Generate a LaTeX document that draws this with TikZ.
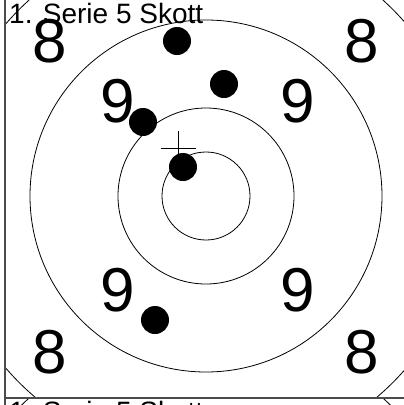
\documentclass[tikz,border=0pt]{standalone}
\usepackage{fontspec}
\setmainfont{Liberation Sans}
\begin{document}
\begin{tikzpicture}[x=1pt,y=-1pt,
  ring/.style={draw, line width=0.8pt},
  shot/.style={circle, fill, inner sep=0pt, minimum size=28pt},
  bignum/.style={font=\fontsize{62}{62}\selectfont, inner sep=0pt},
  titletext/.style={font=\fontsize{28}{28}\selectfont, inner sep=0pt, anchor=base west},
  border/.style={line width=1.5pt, draw=black!70},
  aim/.style={draw, line width=1pt}]
\useasboundingbox (0,0) rectangle (404,405);
% first sheet
\begin{scope}
\clip (5,0) rectangle (404,398);
\coordinate (c) at (206,196);
\node[titletext] (t1) at (9,23) {1. Serie 5 Skott};
\node[bignum] (e1) at (50,41) {8};
\node[bignum] (e2) at (362,41) {8};
\node[bignum] (e3) at (50,352) {8};
\node[bignum] (e4) at (362,352) {8};
\node[bignum] (n1) at (118,101) {9};
\node[bignum] (n2) at (298,101) {9};
\node[bignum] (n3) at (118,290) {9};
\node[bignum] (n4) at (298,290) {9};
\draw[ring] (c) circle (44);
\draw[ring] (c) circle (88);
\draw[ring] (c) circle (176);
\draw[ring] (c) circle (264);
\coordinate (xl) at (161,148);
\coordinate (xr) at (196,148);
\coordinate (xt) at (178,131);
\coordinate (xb) at (178,165);
\draw[aim] (xl) -- (xr);
\draw[aim] (xt) -- (xb);
\node[shot] (s1) at (177,41) {};
\node[shot] (s2) at (224,84) {};
\node[shot] (s3) at (143,122) {};
\node[shot] (s4) at (183,167) {};
\node[shot] (s5) at (155,320) {};
\end{scope}
% next sheet, only its top shows
\begin{scope}
\clip (5,398) rectangle (404,405);
\begin{scope}[shift={(0,398)}]
\coordinate (c2) at (206,196);
\node[titletext] (t2) at (9,23) {1. Serie 5 Skott};
\draw[ring] (c2) circle (264);
\end{scope}
\end{scope}
\coordinate (b1) at (5,0);
\coordinate (b2) at (5,405);
\coordinate (b3) at (5,398);
\coordinate (b4) at (404,398);
\draw[border] (b1) -- (b2);
\draw[border] (b3) -- (b4);
\end{tikzpicture}
\end{document}
